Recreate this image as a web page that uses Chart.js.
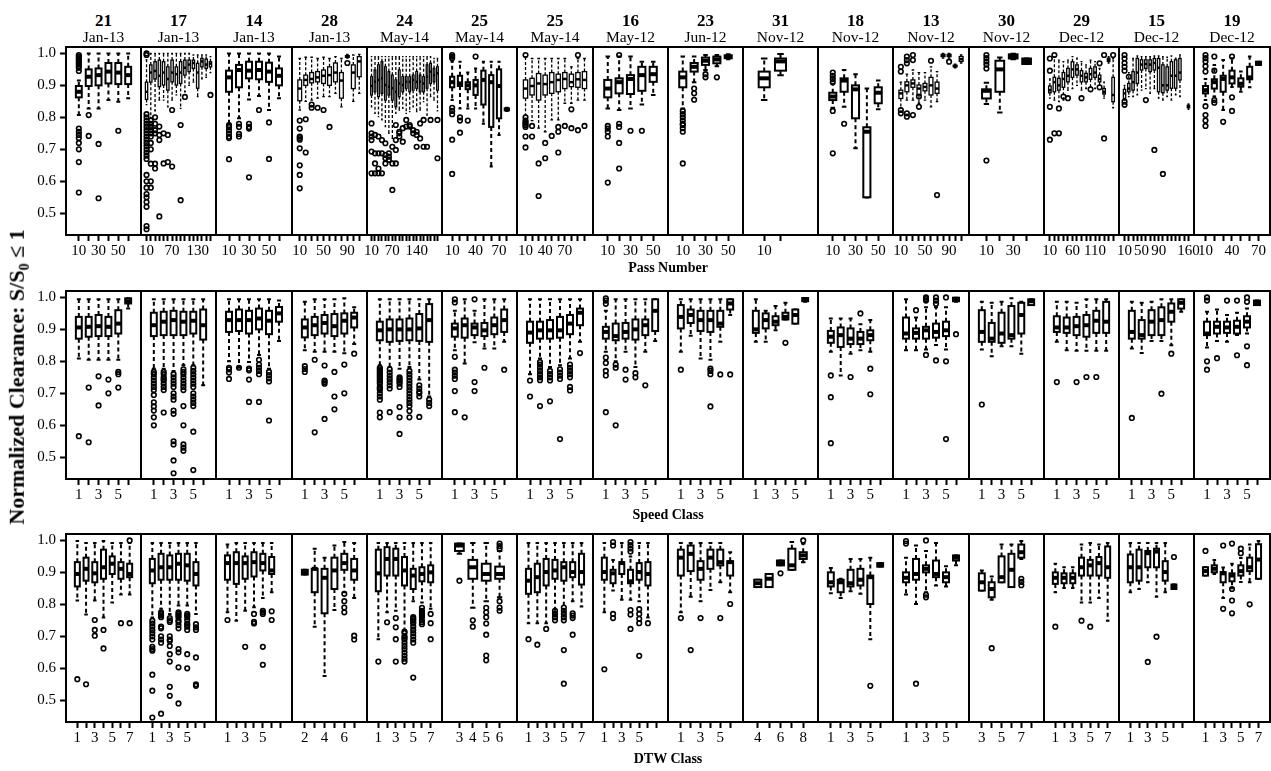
<!DOCTYPE html>
<html>
<head>
<meta charset="utf-8">
<script src="https://cdn.jsdelivr.net/npm/chart.js@4"></script>
<style>
body { margin: 0; background: #fff; width: 1271px; height: 771px; position: relative; overflow: hidden; font-family: "Liberation Serif", serif; color: #000; }
canvas { position: absolute; }
.t { position: absolute; transform: translate(-50%, -50%); line-height: 1; white-space: nowrap; }
</style>
</head>
<body>
<script>
// sites across the top
const siteIds = ['21','17','14','28','24','25','25','16','23','31','18','13','30','29','15','19'];
const siteDates = ['Jan-13','Jan-13','Jan-13','Jan-13','May-14','May-14','May-14','May-12','Jun-12','Nov-12','Nov-12','Nov-12','Nov-12','Dec-12','Dec-12','Dec-12'];

// tick labels per slot ('' = tick without label, null = no tick)
const passTicks = [
  ['10','','30','','50',''],
  ['10','','','','','','70','','','','','','130','','',''],
  ['10','','30','','50',''],
  ['10','','','','50','','','','90','',''],
  ['10','','','','','','70','','','','','','','140','','','','','',''],
  ['10','','','40','','','70',''],
  ['10','','','40','','','70','','',''],
  ['10','','30','','50'],
  ['10','','30','','50'],
  ['10','',null],
  ['10','','30','','50'],
  ['10','','','','50','','','','90','',''],
  ['10','','30',''],
  ['10','','','','','60','','','','','110','','','',''],
  ['10','','','','50','','','','90','','','','','','','160'],
  ['10','','','40','','','70']
];
const speedLabels = ['1','','3','','5',''];
const dtwTicks = [
  ['1','','3','','5','','7'],
  ['1','','3','','5','',''],
  ['1','','3','','5','',''],
  ['2','','4','','6',''],
  ['1','','3','','5','','7'],
  ['3','4','5','6'],
  ['1','','3','','5','','7'],
  ['1','','3','','5','',''],
  ['1','','3','','5',''],
  ['4','','6','','8'],
  ['1','','3','','5',''],
  ['1','','3','','5',''],
  ['3','','5','','7',''],
  ['1','','3','','5','','7'],
  ['1','','3','','5','',''],
  ['1','','3','','5','','7']
];

// boxes: [lower whisker, Q1, median, Q3, upper whisker] per slot
const passBoxes = [
  [[0.807,0.8625,0.88,0.898,0.915],[0.828,0.898,0.927,0.95,1.0],[0.828,0.90,0.932,0.953,1.0],[0.854,0.906,0.943,0.97,1.0],[0.849,0.904,0.94,0.97,1.0],[0.86,0.904,0.932,0.958,1.0]],
  [[0.84,0.856,0.88,0.91,0.98],[0.80,0.91,0.94,0.964,1.0],[0.82,0.92,0.945,0.974,1.0],[0.854,0.896,0.93,0.979,1.0],[0.854,0.901,0.94,0.974,1.0],[0.833,0.885,0.92,0.958,1.0],[0.854,0.911,0.94,0.979,1.0],[0.87,0.901,0.935,0.958,1.0],[0.828,0.906,0.94,0.974,1.0],[0.88,0.932,0.955,0.979,1.0],[0.90,0.943,0.965,0.979,1.0],[0.91,0.953,0.97,0.979,0.995],[0.865,0.891,0.94,0.969,0.995],[0.92,0.958,0.975,0.984,0.995],[0.925,0.953,0.965,0.982,0.995],[0.94,0.958,0.968,0.974,0.99]],
  [[0.78,0.88,0.925,0.946,1.0],[0.797,0.894,0.948,0.964,1.0],[0.856,0.922,0.946,0.974,1.0],[0.867,0.919,0.948,0.974,1.0],[0.823,0.911,0.943,0.971,1.0],[0.86,0.90,0.93,0.953,0.99]],
  [[0.823,0.852,0.89,0.917,0.984],[0.85,0.90,0.917,0.932,0.988],[0.854,0.908,0.92,0.94,0.988],[0.86,0.911,0.925,0.943,0.984],[0.865,0.906,0.93,0.948,0.988],[0.865,0.90,0.932,0.958,0.984],[0.875,0.911,0.94,0.97,0.99],[0.833,0.86,0.915,0.94,0.984],[0.985,0.988,0.99,0.993,0.997],[0.85,0.89,0.94,0.964,0.995],[0.875,0.927,0.975,0.99,0.997]],
  [[0.833,0.870,0.898,0.927,0.990],[0.8125,0.880,0.911,0.948,0.990],[0.802,0.865,0.917,0.964,0.990],[0.792,0.875,0.922,0.974,0.990],[0.771,0.854,0.901,0.958,0.990],[0.75,0.870,0.896,0.943,0.990],[0.734,0.854,0.891,0.932,0.990],[0.8125,0.833,0.880,0.917,0.990],[0.823,0.865,0.906,0.948,0.990],[0.828,0.880,0.901,0.927,0.990],[0.8125,0.891,0.911,0.927,0.990],[0.818,0.880,0.911,0.927,0.990],[0.833,0.885,0.917,0.932,0.990],[0.818,0.891,0.911,0.943,0.990],[0.823,0.880,0.911,0.932,0.990],[0.849,0.880,0.906,0.927,0.990],[0.807,0.891,0.927,0.964,0.990],[0.865,0.906,0.943,0.969,0.990],[0.854,0.911,0.932,0.953,0.984],[0.82,0.885,0.938,0.958,0.984]],
  [[0.854,0.894,0.91,0.927,0.974],[0.828,0.898,0.906,0.93,0.974],[0.828,0.888,0.90,0.91,0.94],[0.828,0.87,0.90,0.917,0.953],[0.78,0.84,0.917,0.946,0.974],[0.646,0.77,0.91,0.932,0.974],[0.745,0.797,0.898,0.95,0.974],[0.82,0.822,0.825,0.828,0.83]],
  [[0.807,0.86,0.89,0.917,0.99],[0.79,0.87,0.898,0.922,0.984],[0.766,0.854,0.906,0.937,0.984],[0.755,0.87,0.904,0.932,0.984],[0.792,0.875,0.91,0.94,0.984],[0.792,0.88,0.917,0.935,0.984],[0.844,0.89,0.92,0.94,0.984],[0.844,0.896,0.91,0.935,0.958],[0.854,0.894,0.919,0.94,0.984],[0.854,0.89,0.917,0.943,0.984]],
  [[0.828,0.8625,0.89,0.917,0.99],[0.823,0.875,0.91,0.922,0.99],[0.828,0.873,0.92,0.932,0.99],[0.84,0.883,0.932,0.958,0.974],[0.87,0.911,0.935,0.958,0.974]],
  [[0.828,0.894,0.925,0.943,0.99],[0.91,0.943,0.958,0.97,0.99],[0.948,0.964,0.977,0.987,0.995],[0.96,0.969,0.981,0.99,0.995],[0.982,0.985,0.99,0.994,0.997]],
  [[0.854,0.894,0.922,0.943,0.984],[0.932,0.946,0.975,0.984,0.998],null],
  [[0.83,0.854,0.865,0.877,0.905],[0.833,0.88,0.915,0.922,0.948],[0.703,0.797,0.8875,0.90,0.935],[0.549,0.55,0.755,0.769,0.89],[0.825,0.844,0.877,0.894,0.915]],
  [[0.828,0.859,0.875,0.885,0.91],[0.854,0.88,0.90,0.911,0.935],[0.854,0.894,0.906,0.917,0.948],[0.844,0.870,0.89,0.901,0.94],[0.854,0.883,0.895,0.906,0.94],[0.833,0.870,0.90,0.925,0.958],[0.849,0.875,0.89,0.91,0.943],[0.985,0.99,0.993,0.997,1.0],[0.985,0.99,0.993,0.997,1.0],[0.955,0.958,0.96,0.963,0.966],[0.97,0.975,0.982,0.99,0.995]],
  [[0.842,0.859,0.883,0.8875,0.908],[0.815,0.88,0.95,0.977,0.987],[0.982,0.984,0.99,0.997,0.999],[0.967,0.967,0.976,0.984,0.984]],
  [[0.86,0.877,0.885,0.898,0.92],[0.854,0.88,0.91,0.925,0.99],[0.849,0.885,0.90,0.922,0.979],[0.854,0.894,0.92,0.94,0.974],[0.885,0.911,0.93,0.953,0.979],[0.89,0.925,0.95,0.974,0.99],[0.90,0.932,0.95,0.964,0.985],[0.885,0.911,0.93,0.946,0.974],[0.89,0.911,0.925,0.9375,0.964],[0.895,0.919,0.935,0.953,0.979],[0.89,0.925,0.94,0.958,0.974],[0.90,0.911,0.92,0.932,0.953],[0.86,0.873,0.88,0.89,0.91],[0.97,0.975,0.98,0.985,0.99],[0.83,0.849,0.87,0.925,0.984]],
  [[0.854,0.859,0.875,0.8875,0.90],[0.865,0.88,0.89,0.906,0.94],[0.865,0.885,0.91,0.943,0.984],[0.87,0.906,0.94,0.984,0.992],[0.885,0.948,0.965,0.98,0.99],[0.89,0.953,0.967,0.98,0.99],[0.875,0.943,0.965,0.98,0.99],[0.89,0.948,0.97,0.984,0.992],[0.86,0.88,0.955,0.984,0.992],[0.854,0.877,0.90,0.964,0.99],[0.865,0.885,0.90,0.958,0.988],[0.854,0.891,0.93,0.974,0.992],[0.87,0.891,0.93,0.98,0.985],[0.865,0.917,0.94,0.984,0.995],null,[0.825,0.83,0.834,0.838,0.842]],
  [[0.854,0.875,0.885,0.898,0.92],[0.865,0.89,0.91,0.919,0.964],[0.823,0.88,0.92,0.93,0.979],[0.895,0.906,0.925,0.946,0.985],[0.88,0.896,0.905,0.922,0.943],[0.894,0.919,0.925,0.958,0.99],[0.964,0.964,0.969,0.974,0.974]]
];
// outliers: [slot, value, value, ...]
const passOutliers = [
  [[1,0.995,0.99,0.985,0.98,0.975,0.97,0.965,0.96,0.955,0.945,0.765,0.755,0.745,0.735,0.72,0.70,0.66,0.565],[2,0.807,0.742],[3,0.717,0.547],[5,0.758]],
  [[1,1.0,0.995,0.81,0.80,0.79,0.78,0.77,0.76,0.75,0.74,0.73,0.72,0.71,0.70,0.69,0.68,0.67,0.62,0.60,0.58,0.56,0.55,0.535,0.52,0.46,0.45],[2,0.79,0.78,0.77,0.76,0.75,0.74,0.72,0.70,0.655,0.60,0.58],[3,0.80,0.78,0.76,0.75,0.655,0.64],[4,0.771,0.745,0.729,0.49],[5,0.75,0.656],[6,0.745,0.66],[7,0.823,0.646],[9,0.776,0.541],[10,0.864],[16,0.87]],
  [[1,0.776,0.77,0.76,0.75,0.74,0.735,0.669],[2,0.78,0.77,0.748,0.74],[3,0.78,0.77,0.765,0.6125],[4,0.823],[5,0.784,0.67]],
  [[1,0.79,0.765,0.74,0.735,0.73,0.703,0.65,0.62,0.578],[2,0.794,0.69],[3,0.84,0.83],[4,0.83],[5,0.823],[6,0.77],[9,0.97]],
  [[1,0.781,0.75,0.74,0.729,0.693,0.625],[2,0.745,0.6875,0.656,0.625],[3,0.74,0.6875,0.64,0.625],[4,0.729,0.6875,0.625],[5,0.719,0.682,0.672,0.656],[6,0.6875,0.677,0.667],[7,0.708,0.656,0.573],[8,0.776,0.729,0.698,0.656],[9,0.755,0.75,0.74],[10,0.766,0.724],[11,0.792,0.771],[12,0.776,0.771],[13,0.76,0.75],[14,0.755,0.745,0.708],[15,0.781,0.734],[16,0.792,0.708],[17,0.708],[18,0.792],[20,0.792,0.672]],
  [[1,0.995,0.99,0.985,0.83,0.82,0.81,0.73,0.623],[2,0.80,0.79,0.752],[3,0.79],[4,0.99]],
  [[1,0.995,0.80,0.79,0.785,0.78,0.775,0.77,0.74,0.706],[2,0.773,0.74],[3,0.656,0.554],[4,0.72,0.672],[5,0.742],[6,0.77,0.755,0.69],[7,0.773],[8,0.825,0.766],[9,0.995,0.76],[10,0.773]],
  [[1,0.773,0.765,0.755,0.74,0.596],[2,0.995,0.78,0.77,0.72,0.64],[3,0.758],[4,0.758]],
  [[1,0.82,0.81,0.80,0.79,0.78,0.776,0.766,0.755,0.656],[2,0.89,0.875,0.855],[3,0.935,0.925],[4,0.925]],
  [],
  [[1,0.94,0.93,0.92,0.91,0.82,0.6875],[2,0.78]],
  [[1,0.958,0.943,0.823,0.8125],[2,0.99,0.979,0.969,0.8125,0.802],[3,0.995,0.979,0.807],[4,0.865,0.833],[6,0.977],[7,0.557],[9,0.974]],
  [[1,0.995,0.985,0.975,0.965,0.953,0.665]],
  [[1,0.984,0.946,0.833,0.73],[2,0.995,0.75],[3,0.828,0.75],[4,0.865],[5,0.86],[8,0.86],[10,0.8875],[12,0.969,0.894],[13,0.995,0.734],[15,0.995]],
  [[1,0.995,0.984,0.97,0.958,0.946,0.849,0.839],[2,0.927],[6,0.854],[8,0.698],[10,0.623]],
  [[1,0.995,0.985,0.975,0.96,0.943,0.835,0.807,0.79,0.773],[2,0.99,0.946,0.854,0.846],[3,0.786],[4,0.99,0.8625,0.82]]
];

const speedBoxes = [
  [[0.809,0.871,0.906,0.939,0.994],[0.805,0.877,0.908,0.939,0.994],[0.805,0.879,0.91,0.945,0.994],[0.805,0.879,0.908,0.939,0.994],[0.805,0.887,0.918,0.96,0.994],[0.965,0.981,0.988,0.997,0.997]],
  [[0.777,0.879,0.913,0.952,0.994],[0.777,0.882,0.924,0.955,0.994],[0.77,0.882,0.929,0.958,0.994],[0.788,0.882,0.924,0.955,0.994],[0.788,0.887,0.927,0.955,0.994],[0.725,0.868,0.913,0.962,0.994]],
  [[0.80,0.892,0.929,0.955,0.994],[0.78,0.895,0.929,0.962,0.994],[0.798,0.887,0.929,0.958,0.994],[0.82,0.90,0.934,0.965,0.994],[0.777,0.885,0.927,0.958,0.994],[0.864,0.924,0.95,0.97,0.99]],
  [[0.835,0.875,0.906,0.931,0.986],[0.83,0.882,0.913,0.939,0.994],[0.83,0.887,0.92,0.945,0.994],[0.83,0.879,0.91,0.948,0.994],[0.825,0.887,0.927,0.95,0.997],[0.854,0.906,0.937,0.952,0.969]],
  [[0.788,0.866,0.897,0.924,0.994],[0.782,0.861,0.90,0.931,0.994],[0.777,0.864,0.90,0.931,0.994],[0.782,0.866,0.90,0.934,0.994],[0.743,0.864,0.903,0.948,0.994],[0.69,0.861,0.929,0.979,0.994]],
  [[0.835,0.877,0.903,0.918,0.958],[0.793,0.874,0.913,0.934,0.994],[0.86,0.882,0.906,0.918,0.958],[0.84,0.879,0.897,0.92,0.994],[0.84,0.885,0.913,0.937,0.994],[0.861,0.892,0.929,0.962,0.994]],
  [[0.76,0.858,0.89,0.924,0.994],[0.809,0.871,0.897,0.924,0.994],[0.782,0.871,0.897,0.929,0.994],[0.788,0.874,0.897,0.939,0.994],[0.809,0.885,0.918,0.945,0.994],[0.861,0.913,0.952,0.965,0.994]],
  [[0.83,0.871,0.892,0.908,0.958],[0.80,0.866,0.879,0.918,0.994],[0.83,0.871,0.892,0.92,0.994],[0.782,0.868,0.90,0.931,0.994],[0.83,0.882,0.913,0.931,0.994],[0.864,0.895,0.958,0.994,0.994]],
  [[0.83,0.903,0.939,0.976,0.994],[0.88,0.92,0.945,0.962,0.994],[0.809,0.895,0.929,0.958,0.994],[0.805,0.892,0.929,0.958,0.994],[0.861,0.908,0.918,0.958,0.994],[0.945,0.962,0.981,0.994,0.994]],
  [[0.861,0.889,0.90,0.958,0.994],[0.861,0.903,0.929,0.95,0.958],[0.897,0.913,0.924,0.941,0.973],[0.931,0.931,0.939,0.952,0.983],[0.918,0.918,0.945,0.962,0.962],[0.986,0.988,0.992,0.998,0.998]],
  [[0.83,0.858,0.877,0.895,0.934],[0.756,0.845,0.882,0.906,0.934],[0.824,0.854,0.871,0.903,0.934],[0.835,0.854,0.871,0.892,0.916],[0.83,0.866,0.882,0.897,0.929],null],
  [[0.835,0.871,0.887,0.937,0.994],[0.835,0.871,0.889,0.903,0.937],[0.837,0.871,0.897,0.908,0.969],[0.851,0.874,0.892,0.918,0.969],[0.837,0.879,0.897,0.924,0.969],[0.986,0.988,0.994,0.999,0.999]],
  [[0.837,0.861,0.892,0.96,0.986],[0.816,0.861,0.871,0.92,0.983],[0.847,0.858,0.887,0.952,0.986],[0.847,0.871,0.882,0.973,0.997],[0.824,0.887,0.945,0.983,0.986],[0.976,0.976,0.988,0.994,0.994]],
  [[0.861,0.892,0.906,0.941,0.986],[0.835,0.889,0.906,0.937,0.986],[0.833,0.882,0.91,0.939,0.983],[0.833,0.877,0.913,0.945,0.994],[0.833,0.889,0.927,0.958,0.994],[0.833,0.889,0.924,0.986,0.994]],
  [[0.84,0.871,0.892,0.958,0.986],[0.826,0.871,0.882,0.929,0.983],[0.864,0.882,0.924,0.96,0.986],[0.864,0.882,0.929,0.969,0.994],[0.85,0.924,0.955,0.981,0.994],[0.955,0.965,0.983,0.994,0.994]],
  [[0.843,0.882,0.887,0.924,0.955],[0.864,0.887,0.908,0.924,0.962],[0.861,0.889,0.906,0.924,0.945],[0.882,0.887,0.908,0.927,0.952],[0.887,0.906,0.924,0.941,0.965],[0.976,0.976,0.983,0.99,0.99]]
];
const speedOutliers = [
  [[1,0.566],[2,0.718,0.547],[3,0.753,0.662],[4,0.743,0.70],[5,0.767,0.76,0.718]],
  [[1,0.767,0.76,0.75,0.74,0.73,0.72,0.71,0.695,0.672,0.659,0.646,0.625,0.60],[2,0.767,0.76,0.75,0.745,0.74,0.73,0.72,0.71,0.64],[3,0.76,0.75,0.74,0.73,0.72,0.70,0.69,0.68,0.646,0.636,0.55,0.54,0.49,0.45],[4,0.775,0.767,0.76,0.75,0.74,0.73,0.72,0.71,0.66,0.60,0.54,0.53,0.52],[5,0.78,0.77,0.76,0.75,0.74,0.73,0.72,0.70,0.69,0.68,0.67,0.66,0.58,0.46]],
  [[1,0.78,0.775,0.765,0.745],[2,0.78],[3,0.777,0.772,0.743,0.673],[4,0.805,0.79,0.78,0.77,0.76,0.673],[5,0.767,0.757,0.747,0.737,0.615]],
  [[1,0.785,0.776,0.767],[2,0.805,0.578],[3,0.787,0.74,0.735,0.73,0.62],[4,0.767,0.69,0.65],[5,0.79,0.70],[6,0.824]],
  [[1,0.78,0.775,0.77,0.765,0.76,0.755,0.75,0.745,0.74,0.735,0.73,0.72,0.715,0.71,0.70,0.69,0.68,0.64,0.625],[2,0.775,0.765,0.755,0.745,0.735,0.725,0.715,0.641],[3,0.75,0.745,0.74,0.735,0.73,0.72,0.657,0.625,0.573],[4,0.77,0.76,0.75,0.74,0.73,0.72,0.71,0.70,0.69,0.68,0.67,0.66,0.645,0.625],[5,0.725,0.715,0.705,0.70,0.69,0.626],[6,0.68,0.67,0.66]],
  [[1,0.994,0.984,0.814,0.774,0.765,0.755,0.745,0.707,0.641],[2,0.625],[3,0.994,0.735,0.707],[4,0.78],[6,0.774]],
  [[1,0.74,0.69],[2,0.798,0.79,0.78,0.77,0.76,0.75,0.741,0.66],[3,0.77,0.76,0.75,0.74,0.675],[4,0.775,0.765,0.755,0.745,0.557],[5,0.79,0.78,0.77,0.76,0.75,0.72,0.709],[6,0.826]],
  [[1,0.997,0.99,0.98,0.812,0.795,0.77,0.756,0.641],[2,0.79,0.78,0.60],[3,0.774,0.743],[4,0.763,0.75],[5,0.725]],
  [[1,0.774],[4,0.777,0.77,0.76,0.659],[5,0.759],[6,0.759]],
  [[4,0.858]],
  [[1,0.756,0.688,0.544],[3,0.751],[4,0.95],[5,0.777,0.697]],
  [[2,0.96],[3,1.0,0.995,0.99,0.82],[4,1.0,0.99,0.98,0.803],[5,1.0,0.80,0.557],[6,0.885]],
  [[1,0.665]],
  [[1,0.735],[3,0.735],[4,0.751],[5,0.751]],
  [[1,0.623],[4,0.699],[5,0.824]],
  [[1,1.0,0.99,0.80,0.774],[2,0.81],[3,0.99],[4,0.99,0.819],[5,1.0,0.986,0.847,0.788]]
];

const dtwBoxes = [
  [[0.812,0.856,0.895,0.932,0.998],[0.768,0.874,0.911,0.946,0.992],[0.812,0.869,0.897,0.932,0.992],[0.759,0.88,0.916,0.971,0.998],[0.806,0.895,0.927,0.95,0.992],[0.831,0.88,0.911,0.932,0.992],[0.831,0.885,0.895,0.927,0.992]],
  [[0.759,0.866,0.906,0.942,0.992],[0.786,0.877,0.916,0.958,0.992],[0.77,0.877,0.916,0.953,0.992],[0.796,0.877,0.927,0.958,0.992],[0.796,0.874,0.922,0.958,0.992],[0.77,0.859,0.895,0.932,0.992],null],
  [[0.775,0.877,0.929,0.953,0.987],[0.749,0.864,0.929,0.963,0.992],[0.78,0.88,0.929,0.95,0.992],[0.791,0.887,0.932,0.963,0.992],[0.82,0.906,0.929,0.958,0.992],[0.838,0.895,0.906,0.948,0.992],null],
  [[0.893,0.893,0.90,0.908,0.908],[0.73,0.838,0.911,0.911,0.974],[0.576,0.772,0.883,0.911,0.946],[0.782,0.848,0.906,0.946,0.984],[0.838,0.908,0.929,0.958,0.995],[0.82,0.877,0.906,0.942,0.992]],
  [[0.691,0.841,0.897,0.971,0.992],[0.775,0.89,0.942,0.979,0.992],[0.78,0.89,0.942,0.974,0.992],[0.72,0.859,0.906,0.948,0.992],[0.81,0.848,0.89,0.911,0.992],[0.806,0.872,0.895,0.916,0.992],[0.786,0.869,0.90,0.922,0.992]],
  [[0.958,0.967,0.984,0.99,0.99],[0.789,0.88,0.916,0.939,0.992],[0.81,0.874,0.895,0.927,0.992],[0.822,0.88,0.895,0.918,0.967]],
  [[0.741,0.833,0.874,0.911,0.992],[0.741,0.838,0.885,0.927,0.992],[0.741,0.859,0.901,0.942,0.992],[0.768,0.88,0.906,0.939,0.992],[0.765,0.874,0.916,0.932,0.992],[0.81,0.885,0.901,0.932,0.992],[0.793,0.862,0.901,0.958,0.992]],
  [[0.775,0.877,0.901,0.946,0.992],[0.843,0.866,0.897,0.908,0.939],[0.814,0.895,0.929,0.932,0.992],[0.814,0.866,0.872,0.908,0.95],[0.81,0.877,0.901,0.929,0.992],[0.759,0.859,0.895,0.932,0.992],null],
  [[0.775,0.89,0.946,0.971,0.992],[0.824,0.904,0.958,0.984,0.992],[0.81,0.877,0.911,0.935,0.992],[0.845,0.911,0.946,0.971,0.992],[0.869,0.922,0.932,0.971,0.992],[0.838,0.89,0.932,0.935,0.963]],
  [[0.854,0.854,0.866,0.877,0.877],[0.854,0.854,0.88,0.895,0.895],[0.922,0.922,0.929,0.937,0.937],[0.908,0.908,0.922,0.974,0.995],[0.932,0.942,0.953,0.963,0.99]],
  [[0.835,0.856,0.869,0.90,0.914],[0.82,0.838,0.869,0.877,0.88],[0.841,0.856,0.866,0.908,0.942],[0.833,0.859,0.877,0.911,0.942],[0.691,0.801,0.885,0.89,0.946],[0.918,0.918,0.922,0.929,0.929]],
  [[0.831,0.869,0.883,0.90,0.946],[0.801,0.877,0.895,0.942,0.984],[0.838,0.90,0.911,0.922,0.967],[0.859,0.885,0.895,0.937,0.992],[0.856,0.869,0.885,0.90,0.919],[0.922,0.937,0.946,0.953,0.953]],
  [[0.843,0.843,0.869,0.897,0.906],[0.814,0.822,0.848,0.869,0.887],[0.869,0.869,0.885,0.95,0.987],[0.854,0.854,0.908,0.958,0.987],[0.942,0.946,0.963,0.987,0.998],null],
  [[0.838,0.864,0.883,0.90,0.927],[0.851,0.866,0.883,0.897,0.916],[0.851,0.866,0.883,0.897,0.916],[0.806,0.89,0.916,0.946,0.987],[0.806,0.89,0.922,0.939,0.992],[0.82,0.89,0.929,0.948,0.987],[0.749,0.883,0.916,0.981,0.992]],
  [[0.838,0.869,0.916,0.956,0.992],[0.848,0.874,0.916,0.971,0.992],[0.869,0.916,0.96,0.967,0.992],[0.824,0.916,0.965,0.974,0.992],[0.838,0.874,0.901,0.935,0.992],[0.848,0.848,0.856,0.862,0.862],null],
  [[0.89,0.89,0.904,0.916,0.916],[0.895,0.90,0.911,0.922,0.939],[0.82,0.869,0.897,0.901,0.915],[0.85,0.872,0.89,0.897,0.927],[0.87,0.89,0.904,0.922,0.945],[0.869,0.904,0.916,0.946,0.987],[0.88,0.88,0.94,0.988,0.998]]
];
const dtwOutliers = [
  [[1,0.566],[2,0.55],[3,0.751,0.72,0.702],[4,0.72,0.662],[6,0.741],[7,1.0,0.741]],
  [[1,0.749,0.74,0.73,0.72,0.71,0.70,0.69,0.667,0.66,0.655,0.58,0.53,0.446],[2,0.775,0.77,0.765,0.76,0.73,0.725,0.70,0.69,0.68,0.458],[3,0.757,0.75,0.745,0.70,0.69,0.685,0.67,0.644,0.621,0.542,0.514],[4,0.775,0.77,0.765,0.76,0.75,0.745,0.735,0.725,0.66,0.65,0.603,0.49],[5,0.77,0.765,0.76,0.75,0.74,0.735,0.73,0.72,0.644,0.6],[6,0.738,0.728,0.72,0.634,0.55,0.545]],
  [[1,0.751],[3,0.667],[4,0.77,0.745,0.74],[5,0.78,0.775,0.77,0.667,0.611],[6,0.778,0.751]],
  [[5,0.833,0.81,0.79,0.775],[6,0.702,0.69]],
  [[1,0.621],[2,0.744],[3,0.757,0.728,0.691,0.621],[4,0.715,0.71,0.70,0.695,0.69,0.68,0.67,0.66,0.65,0.64,0.63,0.621],[5,0.76,0.755,0.75,0.745,0.74,0.73,0.72,0.71,0.70,0.69,0.68,0.571],[6,0.789,0.78,0.775,0.77,0.765,0.76,0.75,0.744,0.738],[7,0.77,0.741,0.691]],
  [[1,0.874],[2,0.75,0.73],[3,0.789,0.775,0.76,0.74,0.705,0.64,0.625],[4,0.99,0.982,0.974,0.81,0.79,0.78]],
  [[1,0.691],[2,0.674],[3,0.723],[4,0.78,0.77,0.76,0.75],[5,0.79,0.78,0.77,0.76,0.75,0.657,0.552],[6,0.772,0.765,0.757,0.705]],
  [[1,0.597],[2,0.995,0.984,0.77,0.757],[4,0.995,0.985,0.975,0.965,0.782,0.768,0.723],[5,0.785,0.77,0.755,0.741,0.639],[6,0.741]],
  [[1,0.757],[2,0.657],[3,0.757],[5,0.757],[6,0.801]],
  [[3,0.897],[5,1.0]],
  [[5,0.545]],
  [[1,0.998,0.99],[2,0.552],[3,1.0,0.83,0.822]],
  [[2,0.663],[5,0.88,0.87,0.86]],
  [[1,0.73],[4,0.749],[5,0.73]],
  [[3,0.62],[4,0.699],[6,0.948]],
  [[1,0.967],[3,0.984,0.786],[4,0.99,0.848,0.812,0.772],[5,0.974,0.96],[6,0.8]]
];

const rowTops = [47, 291, 534];
const plotH = 188;
const X = [];
for (let c = 0; c <= 16; c++) X.push(Math.round(66 + c * 75.22));
const serif = '"Liberation Serif", "Times New Roman", serif';

function drawBoxes(chart, boxes) {
  const {ctx, chartArea: a, scales: {x, y}} = chart;
  const step = x.getPixelForValue(2) - x.getPixelForValue(1);
  const dense = step < 7;
  const lw = dense ? 1.3 : 2;
  const bw = Math.max(step * (dense ? 0.85 : 0.8) - lw, 1.5);
  const cap = (bw + lw) / 4;
  ctx.save();
  ctx.beginPath();
  ctx.rect(a.left, a.top, a.width, a.height);
  ctx.clip();
  ctx.strokeStyle = '#000';
  boxes.forEach((b, i) => {
    if (!b) return;
    const cx = x.getPixelForValue(i + 1);
    const [lo, q1, md, q3, hi] = b.map(v => y.getPixelForValue(v));
    ctx.lineWidth = lw;
    ctx.setLineDash(dense ? [3, 2] : [4, 3]);
    ctx.beginPath();
    ctx.moveTo(cx, q3); ctx.lineTo(cx, hi);
    ctx.moveTo(cx, q1); ctx.lineTo(cx, lo);
    ctx.stroke();
    ctx.setLineDash([]);
    ctx.beginPath();
    ctx.moveTo(cx - cap, hi); ctx.lineTo(cx + cap, hi);
    ctx.moveTo(cx - cap, lo); ctx.lineTo(cx + cap, lo);
    ctx.stroke();
    ctx.fillStyle = '#fff';
    ctx.fillRect(cx - bw / 2, q3, bw, q1 - q3);
    ctx.strokeRect(cx - bw / 2, q3, bw, q1 - q3);
    ctx.lineWidth = dense ? 2.5 : 4;
    ctx.beginPath();
    ctx.moveTo(cx - bw / 2, md); ctx.lineTo(cx + bw / 2, md);
    ctx.stroke();
  });
  ctx.restore();
}

function makePanel(row, col, ticks, boxes, outliers) {
  const x0 = X[col], x1 = X[col + 1];
  const padL = col === 0 ? 66 : 14, padR = 14, padT = 4, axisH = 34;
  const cv = document.createElement('canvas');
  cv.width = (x1 - x0) + padL + padR;
  cv.height = plotH + padT + axisH;
  cv.style.left = (x0 - padL) + 'px';
  cv.style.top = (rowTops[row] - padT) + 'px';
  document.body.appendChild(cv);

  const n = ticks.length;
  const slots = [];
  ticks.forEach((t, i) => { if (t !== null) slots.push(i + 1); });
  const pts = [];
  outliers.forEach(o => o.slice(1).forEach(v => pts.push({x: o[0], y: v})));

  new Chart(cv, {
    type: 'scatter',
    data: {
      datasets: [{
        data: pts,
        pointRadius: 2.3,
        pointHoverRadius: 2.3,
        pointBorderWidth: 1.6,
        borderColor: '#000',
        backgroundColor: 'rgba(0,0,0,0)'
      }]
    },
    options: {
      responsive: false,
      animation: false,
      devicePixelRatio: 1,
      events: [],
      layout: {autoPadding: false, padding: {left: col === 0 ? 0 : padL, right: padR, top: padT, bottom: 0}},
      plugins: {legend: {display: false}, tooltip: {enabled: false}},
      scales: {
        x: {
          type: 'linear',
          min: 1 - 1.3,
          max: n + 1.3,
          border: {display: false},
          grid: {display: true, drawOnChartArea: false, drawTicks: true, tickLength: 6, tickWidth: 2, tickColor: '#000'},
          ticks: {
            autoSkip: false, maxRotation: 0, minRotation: 0, padding: 1, color: '#000',
            font: {family: serif, size: 15},
            callback: (v, i) => ticks[slots[i] - 1]
          },
          afterBuildTicks: s => { s.ticks = slots.map(v => ({value: v})); },
          afterFit: s => { s.height = axisH; s.paddingLeft = 0; s.paddingRight = 0; }
        },
        y: {
          display: col === 0,
          min: 0.432,
          max: 1.02,
          border: {display: false},
          grid: {display: true, drawOnChartArea: false, drawTicks: true, tickLength: 6, tickWidth: 2, tickColor: '#000'},
          ticks: {padding: 4, color: '#000', font: {family: serif, size: 15}, callback: v => v.toFixed(1)},
          afterBuildTicks: s => { s.ticks = [0.5, 0.6, 0.7, 0.8, 0.9, 1.0].map(v => ({value: v})); },
          afterFit: s => { s.width = col === 0 ? 66 : 0; s.paddingTop = 0; s.paddingBottom = 0; }
        }
      }
    },
    plugins: [{
      id: 'boxplot',
      beforeDatasetsDraw(chart) { drawBoxes(chart, boxes); },
      afterDraw(chart) {
        const {ctx, chartArea: a} = chart;
        ctx.save();
        ctx.lineWidth = 2;
        ctx.strokeStyle = '#000';
        ctx.strokeRect(a.left, a.top, a.width, a.height);
        ctx.restore();
      }
    }]
  });
}

function addText(html, x, y, css) {
  const d = document.createElement('div');
  d.className = 't';
  d.innerHTML = html;
  d.style.left = x + 'px';
  d.style.top = y + 'px';
  Object.assign(d.style, css);
  document.body.appendChild(d);
}

for (let c = 0; c < 16; c++) {
  makePanel(0, c, passTicks[c], passBoxes[c], passOutliers[c]);
  makePanel(1, c, speedLabels, speedBoxes[c], speedOutliers[c]);
  makePanel(2, c, dtwTicks[c], dtwBoxes[c], dtwOutliers[c]);
  const cx = (X[c] + X[c + 1]) / 2;
  addText(siteIds[c], cx, 19.5, {fontSize: '17px', fontWeight: 'bold'});
  addText(siteDates[c], cx, 36.5, {fontSize: '15.5px'});
}
addText('Pass Number', 668, 268, {fontSize: '14px', fontWeight: 'bold'});
addText('Speed Class', 668, 515, {fontSize: '14px', fontWeight: 'bold'});
addText('DTW Class', 668, 759, {fontSize: '14px', fontWeight: 'bold'});
addText('Normalized Clearance: S/S<sub style="font-size:14px">0</sub> ≤ 1', 18.5, 377,
  {fontSize: '22px', fontWeight: 'bold', transform: 'translate(-50%, -50%) rotate(-90deg)'});
</script>
</body>
</html>
